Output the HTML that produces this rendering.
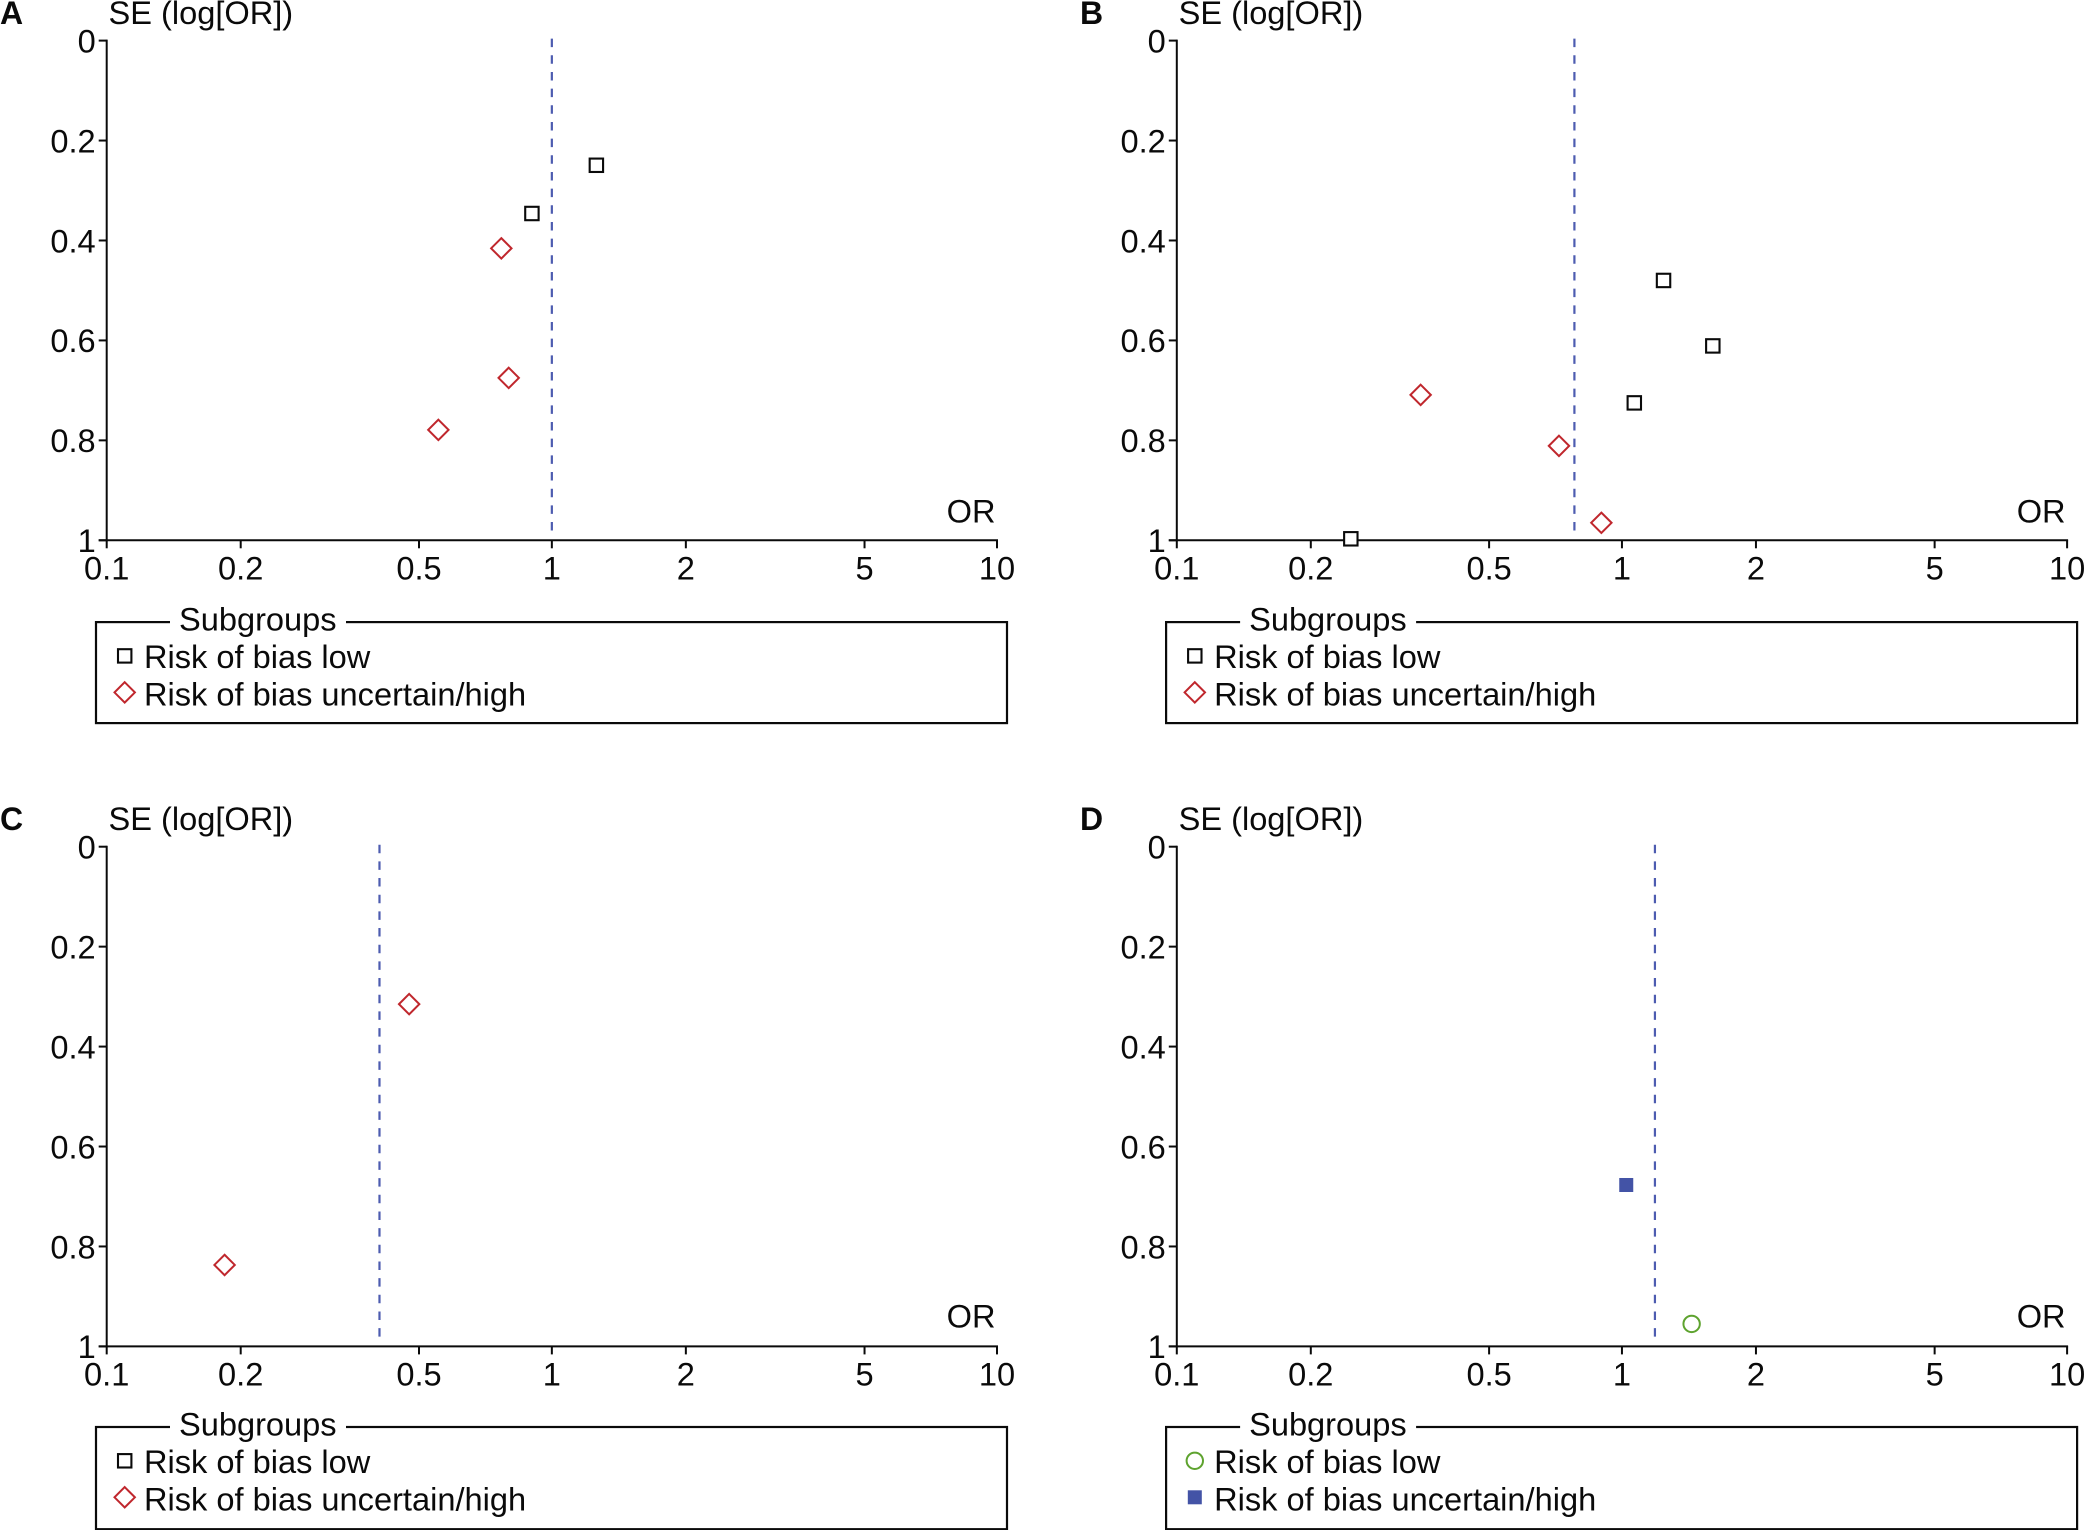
<!DOCTYPE html>
<html lang="en">
<head>
<meta charset="utf-8">
<title>Funnel plots by risk of bias</title>
<style>
html,body{margin:0;padding:0;background:#fff;width:2084px;height:1530px;overflow:hidden}
svg{display:block;font-family:"Liberation Sans",Arial,sans-serif;fill:#0a0a0a}
</style>
</head>
<body>
<svg id="figure" xmlns="http://www.w3.org/2000/svg" width="2084" height="1530" viewBox="0 0 2084 1530"></svg>
<script>
// Axis ticks
const xTicks = [0.1, 0.2, 0.503, 1, 2, 5.04, 10];
const xTickLabels = ["0.1", "0.2", "0.5", "1", "2", "5", "10"];
const yTicks = [0, 0.2, 0.4, 0.6, 0.8, 1];
const yTickLabels = ["0", "0.2", "0.4", "0.6", "0.8", "1"];

// Panel A
const aLowOR = [1.259, 0.902];
const aLowSE = [0.2495, 0.346];
const aHighOR = [0.770, 0.80, 0.556];
const aHighSE = [0.4157, 0.675, 0.779];
const aPooledOR = 1.0;

// Panel B
const bLowOR = [1.24, 1.60, 1.066, 0.246];
const bLowSE = [0.48, 0.611, 0.725, 0.997];
const bHighOR = [0.353, 0.722, 0.899];
const bHighSE = [0.709, 0.811, 0.965];
const bPooledOR = 0.782;

// Panel C
const cLowOR = [];
const cLowSE = [];
const cHighOR = [0.478, 0.184];
const cHighSE = [0.315, 0.837];
const cPooledOR = 0.41;

// Panel D
const dLowOR = [1.434];
const dLowSE = [0.955];
const dHighOR = [1.0225];
const dHighSE = [0.677];
const dPooledOR = 1.186;

const RED = "#c0272d", BLUE = "#4353a6", GREEN = "#5ea32f", INK = "#0a0a0a", DASH = "#4d5cb0";
const FONT = 32.6;
const svg = document.getElementById("figure");

function make(parent, tag, attrs, text) {
  const n = document.createElementNS("http://www.w3.org/2000/svg", tag);
  for (const k in attrs) n.setAttribute(k, attrs[k]);
  if (text !== undefined) n.textContent = text;
  parent.appendChild(n);
  return n;
}

function marker(parent, kind, cx, cy) {
  let el;
  if (kind === "square") {
    el = make(parent, "rect", {x: cx - 6.7, y: cy - 6.7, width: 13.4, height: 13.4, fill: "#fff", stroke: INK, "stroke-width": 2.1});
  } else if (kind === "diamond") {
    const r = 10.2;
    el = make(parent, "polygon", {points: [cx, cy - r, cx + r, cy, cx, cy + r, cx - r, cy].join(" "), fill: "#fff", stroke: RED, "stroke-width": 2});
  } else if (kind === "circle") {
    el = make(parent, "circle", {cx: cx, cy: cy, r: 8.2, fill: "#fff", stroke: GREEN, "stroke-width": 2});
  } else {
    el = make(parent, "rect", {x: cx - 7, y: cy - 7, width: 14, height: 14, fill: BLUE});
  }
  return el;
}

function drawPanel(p) {
  const W = 890.3, H = 499.7;
  const xScale = v => p.left + (Math.log10(v) + 1) / 2 * W;
  const yScale = v => p.top + v * H;
  const g = make(svg, "g", {});
  
  

  const letter = make(g, "text", {x: p.letterX, y: p.top - 16.7, "font-size": 32, "font-weight": "bold"}, p.id.toUpperCase());
  
  

  const yTitle = make(g, "text", {x: p.left + 1.8, y: p.top - 16.7, "font-size": FONT}, "SE (log[OR])");
  
  

  const xTitle = make(g, "text", {x: p.left + W - 1.5, y: p.top + H - 17.7 + p.shift, "font-size": FONT, "text-anchor": "end"}, "OR");
  
  

  const yAxis = make(g, "line", {x1: p.left, x2: p.left, y1: yScale(0) - 1, y2: yScale(1) + 1, stroke: INK, "stroke-width": 2});
  
  

  const xAxis = make(g, "line", {x1: p.left - 8, x2: xScale(10) + 1, y1: yScale(1), y2: yScale(1), stroke: INK, "stroke-width": 2});
  
  

  yTicks.forEach((t, i) => {
    const tick = make(g, "line", {x1: p.left - 8, x2: p.left, y1: yScale(t), y2: yScale(t), stroke: INK, "stroke-width": 2});
    
    
    const lab = make(g, "text", {x: p.left - 11, y: yScale(t) + 11.8, "font-size": FONT, "text-anchor": "end"}, yTickLabels[i]);
    
    
  });

  xTicks.forEach((t, i) => {
    const tick = make(g, "line", {x1: xScale(t), x2: xScale(t), y1: yScale(1), y2: yScale(1) + 8, stroke: INK, "stroke-width": 2});
    
    
    const lab = make(g, "text", {x: xScale(t), y: yScale(1) + 39, "font-size": FONT, "text-anchor": "middle"}, xTickLabels[i]);
    
    
  });

  const pooled = make(g, "line", {x1: xScale(p.pooled), x2: xScale(p.pooled), y1: yScale(0) - 2, y2: yScale(1) - 9, stroke: DASH, "stroke-width": 2.2, "stroke-dasharray": "8.5 8.17"});
  
  

  p.lowOR.forEach((v, i) => {
    const m = marker(g, p.lowMarker, xScale(v), yScale(p.lowSE[i]));
    
    
  });
  p.highOR.forEach((v, i) => {
    const m = marker(g, p.highMarker, xScale(v), yScale(p.highSE[i]));
    
    
  });

  const lg = make(g, "g", {});
  
  
  const ly = p.top + H + 81.8 + p.shift;
  const box = make(lg, "rect", {x: p.left - 10.7, y: ly, width: 911, height: 101 - p.shift, fill: "#fff", stroke: INK, "stroke-width": 2.2});
  
  
  const gap = make(lg, "rect", {x: p.left + 63.3, y: ly - 4, width: 176, height: 8, fill: "#fff"});
  
  
  const title = make(lg, "text", {x: p.left + 72.3, y: ly + 8.5, "font-size": FONT}, "Subgroups");
  
  

  const lm1 = marker(lg, p.lowMarker, p.left + 18, ly + 33.8);
  
  
  const lt1 = make(lg, "text", {x: p.left + 37.3, y: ly + 46, "font-size": FONT}, "Risk of bias low");
  
  
  const lm2 = marker(lg, p.highMarker, p.left + 18, ly + 70.3);
  
  
  const lt2 = make(lg, "text", {x: p.left + 37.3, y: ly + 83.3, "font-size": FONT}, "Risk of bias uncertain/high");
  
  
}

drawPanel({id: "a", left: 106.7, top: 40.6, shift: 0, letterX: 0, pooled: aPooledOR, lowOR: aLowOR, lowSE: aLowSE, highOR: aHighOR, highSE: aHighSE, lowMarker: "square", highMarker: "diamond"});
drawPanel({id: "b", left: 1176.8, top: 40.6, shift: 0, letterX: 1080, pooled: bPooledOR, lowOR: bLowOR, lowSE: bLowSE, highOR: bHighOR, highSE: bHighSE, lowMarker: "square", highMarker: "diamond"});
drawPanel({id: "c", left: 106.7, top: 846.7, shift: -1.2, letterX: 0, pooled: cPooledOR, lowOR: cLowOR, lowSE: cLowSE, highOR: cHighOR, highSE: cHighSE, lowMarker: "square", highMarker: "diamond"});
drawPanel({id: "d", left: 1176.8, top: 846.7, shift: -1.2, letterX: 1080, pooled: dPooledOR, lowOR: dLowOR, lowSE: dLowSE, highOR: dHighOR, highSE: dHighSE, lowMarker: "circle", highMarker: "filled-square"});
</script>
</body>
</html>
